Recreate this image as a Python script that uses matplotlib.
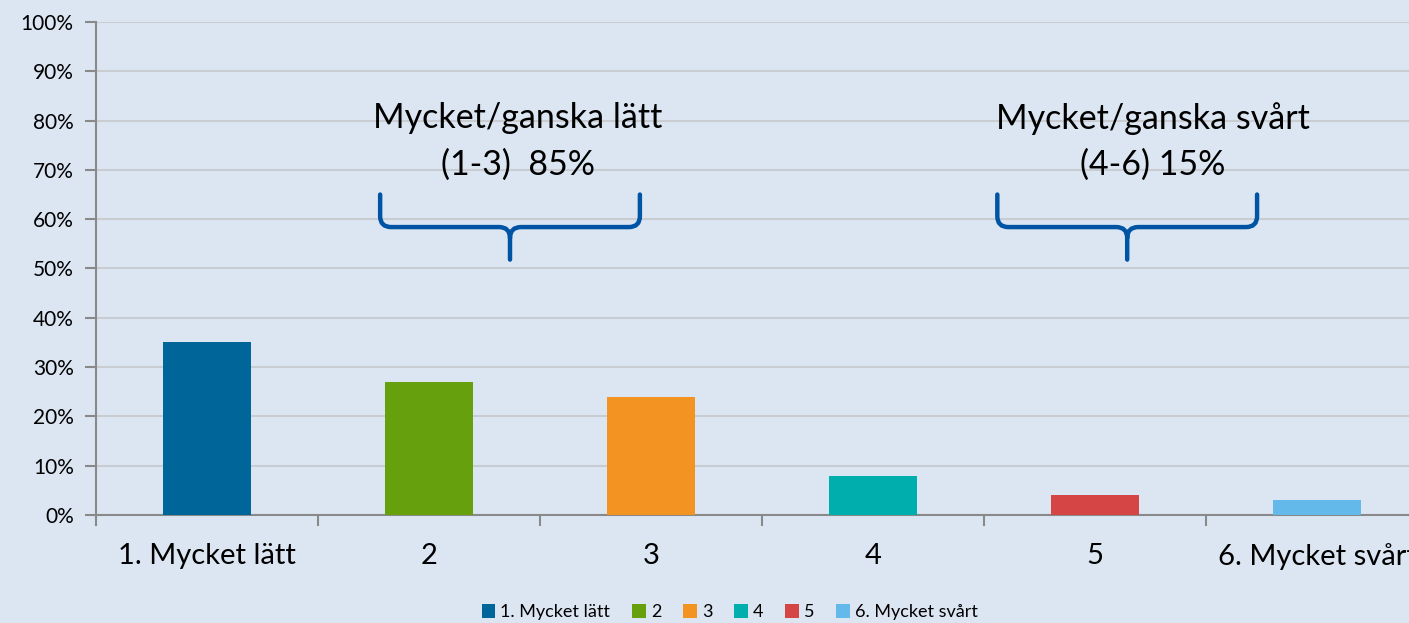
import matplotlib.pyplot as plt
import numpy as np
from matplotlib.path import Path
from matplotlib.patches import PathPatch, Patch

plt.rcParams['font.family'] = ['Lato', 'DejaVu Sans']

categories = ['1. Mycket lätt', '2', '3', '4', '5', '6. Mycket svårt']
values = [35, 27, 24, 8, 4, 3]
colors = ['#006699', '#66A00C', '#F39422', '#00AEAE', '#D54545', '#63B9EA']
yticks = [0, 10, 20, 30, 40, 50, 60, 70, 80, 90, 100]

bg = '#DCE6F3'
brace_color = '#0054A4'


def brace(ax, x0, x1, ytop, ymid, ybot):
    # curly bracket opening upwards, tip pointing down
    xc = (x0 + x1) / 2
    r = 0.05
    ry = 2.2
    verts = [
        (x0, ytop), (x0, ymid + ry),
        (x0, ymid), (x0 + r, ymid),
        (xc - r, ymid),
        (xc, ymid), (xc, ymid - ry),
        (xc, ybot),
        (xc, ymid - ry),
        (xc, ymid), (xc + r, ymid),
        (x1 - r, ymid),
        (x1, ymid), (x1, ymid + ry),
        (x1, ytop),
    ]
    codes = [Path.MOVETO, Path.LINETO,
             Path.CURVE3, Path.CURVE3,
             Path.LINETO,
             Path.CURVE3, Path.CURVE3,
             Path.LINETO,
             Path.MOVETO,
             Path.CURVE3, Path.CURVE3,
             Path.LINETO,
             Path.CURVE3, Path.CURVE3,
             Path.LINETO]
    ax.add_patch(PathPatch(Path(verts, codes), fill=False, edgecolor=brace_color,
                           lw=3.2, capstyle='round', joinstyle='round', zorder=4))


fig = plt.figure(figsize=(14.09, 6.23), dpi=100, facecolor=bg)
ax = fig.add_axes([0.0681, 0.1734, 0.9454, 0.7913])
ax.set_facecolor(bg)

x = np.arange(len(categories))
ax.bar(x, values, width=0.4, color=colors, zorder=3)

ax.set_xlim(-0.5, len(categories) - 0.5)
ax.set_ylim(0, 100)
ax.set_yticks(yticks)
ax.set_yticklabels([f'{t}%' for t in yticks], fontsize=15)
ax.set_xticks(x)
ax.set_xticklabels(categories, fontsize=21)
ax.set_xticks(np.arange(-0.5, len(categories)), minor=True)
ax.tick_params(axis='x', which='major', length=0, pad=20)
ax.tick_params(axis='x', which='minor', length=8, color='#898989', width=1.5)
ax.tick_params(axis='y', length=8, color='#898989', width=1.5, pad=8)
ax.grid(axis='y', color='#C9CDD2', lw=1.5, zorder=0)

for side in ['top', 'right']:
    ax.spines[side].set_visible(False)
for side in ['left', 'bottom']:
    ax.spines[side].set_color('#898989')
    ax.spines[side].set_linewidth(1.5)

# group braces and labels
brace(ax, 0.78, 1.95, 65, 58.4, 51.8)
brace(ax, 3.56, 4.73, 65, 58.4, 51.8)
ax.text(1.40, 80.5, 'Mycket/ganska lätt', ha='center', va='center', fontsize=24.5, zorder=5)
ax.text(1.40, 71, '(1-3)  85%', ha='center', va='center', fontsize=24.5, zorder=5)
ax.text(4.26, 80.5, 'Mycket/ganska svårt', ha='center', va='center', fontsize=24.5, zorder=5)
ax.text(4.26, 71, '(4-6) 15%', ha='center', va='center', fontsize=24.5, zorder=5)

handles = [Patch(facecolor=c, label=l) for c, l in zip(colors, categories)]
fig.legend(handles=handles, loc='center', bbox_to_anchor=(0.518, 0.017), ncol=6,
           frameon=False, fontsize=13, handlelength=0.75, handleheight=0.75,
           handletextpad=0.3, columnspacing=1.2)

fig.savefig('out.png', dpi=100, facecolor=bg)
